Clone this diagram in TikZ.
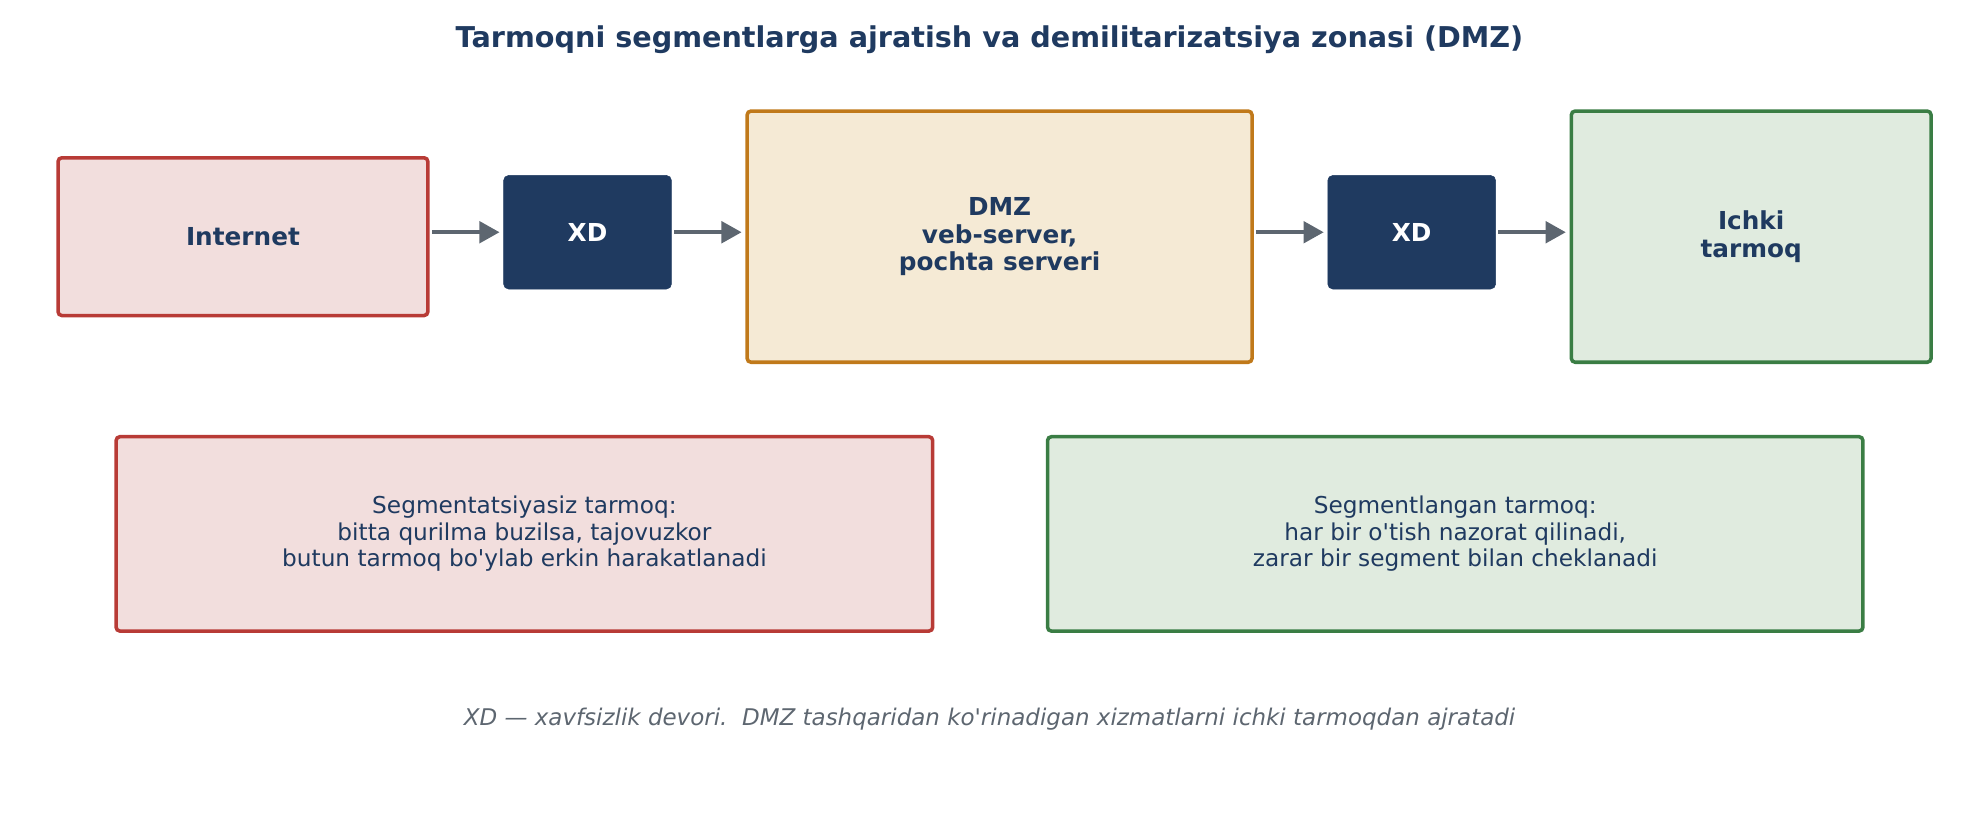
\documentclass[tikz,border=0pt]{standalone}
\usepackage{fontspec}
\setmainfont{DejaVu Sans}
\usetikzlibrary{arrows.meta}
\definecolor{navy}{HTML}{1F3A60}
\definecolor{redline}{HTML}{B83B36}
\definecolor{redfill}{HTML}{F2DEDD}
\definecolor{orangeline}{HTML}{C0791A}
\definecolor{orangefill}{HTML}{F5EAD5}
\definecolor{greenline}{HTML}{3A7D44}
\definecolor{greenfill}{HTML}{E0EBDF}
\definecolor{slate}{HTML}{5D6670}
\begin{document}
\begin{tikzpicture}[x=1pt,y=-1pt,
    box/.style={draw, line width=2.8pt, rounded corners=3pt, inner sep=0pt, align=center, text=navy},
    redbox/.style={box, draw=redline, fill=redfill},
    orangebox/.style={box, draw=orangeline, fill=orangefill},
    greenbox/.style={box, draw=greenline, fill=greenfill},
    xdbox/.style={fill=navy, draw=navy, rounded corners=4pt, minimum width=133pt, minimum height=90pt,
        text=white, font=\fontsize{19.6}{22}\selectfont\bfseries},
    bigfont/.style={font=\fontsize{19.6}{22}\selectfont\bfseries},
    smallfont/.style={font=\fontsize{18.4}{21}\selectfont},
    flow/.style={-{Triangle[length=16pt,width=17pt]}, line width=3pt, draw=slate, shorten <=2pt, shorten >=3pt}]
    \useasboundingbox (0,0) rectangle (1568,649);
    \node[font=\fontsize{22.7}{26}\selectfont\bfseries, text=navy] (title) at (784,31.5)
        {Tarmoqni segmentlarga ajratish va demilitarizatsiya zonasi (DMZ)};
    % upper row
    \node[redbox, bigfont, minimum width=293pt, minimum height=125pt] (inet) at (192.5,187.5) {Internet};
    \node[xdbox] (xd1) at (465.5,184) {XD};
    \node[orangebox, bigfont, minimum width=400pt, minimum height=199pt] (dmz) at (792,187.5)
        {DMZ\\veb-server,\\pochta serveri};
    \node[xdbox] (xd2) at (1118.5,184) {XD};
    \node[greenbox, bigfont, minimum width=285pt, minimum height=199pt] (ichki) at (1387.5,187.5)
        {Ichki\\tarmoq};
    \draw[flow] (inet.east |- xd1.west) -- (xd1.west);
    \draw[flow] (xd1.east) -- (dmz.west |- xd1.east);
    \draw[flow] (dmz.east |- xd2.west) -- (xd2.west);
    \draw[flow] (xd2.east) -- (ichki.west |- xd2.east);
    % lower row
    \node[redbox, smallfont, minimum width=647pt, minimum height=154pt] (flat) at (415.5,423)
        {Segmentatsiyasiz tarmoq:\\bitta qurilma buzilsa, tajovuzkor\\butun tarmoq bo\textquotesingle ylab erkin harakatlanadi};
    \node[greenbox, smallfont, minimum width=646pt, minimum height=154pt] (seg) at (1153,423)
        {Segmentlangan tarmoq:\\har bir o\textquotesingle tish nazorat qilinadi,\\zarar bir segment bilan cheklanadi};
    \node[font=\fontsize{18.2}{21}\selectfont\itshape, text=slate] (note) at (784,569.5)
        {XD --- xavfsizlik devori.\ \ DMZ tashqaridan ko\textquotesingle rinadigan xizmatlarni ichki tarmoqdan ajratadi};
\end{tikzpicture}
\end{document}
